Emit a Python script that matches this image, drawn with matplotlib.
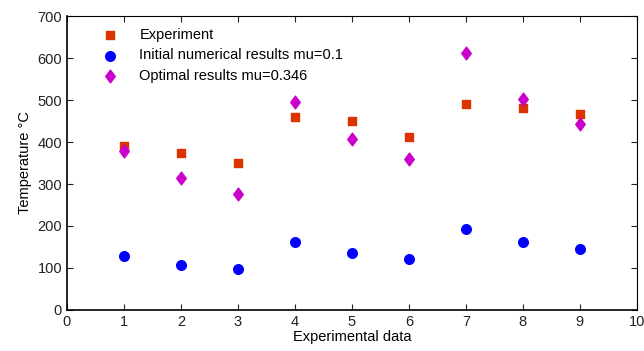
import matplotlib
matplotlib.use("Agg")
import matplotlib.pyplot as plt
from matplotlib.markers import MarkerStyle
from matplotlib.transforms import Affine2D

plt.rcParams['font.family'] = ['Liberation Sans', 'DejaVu Sans']

# data
runs = [1, 2, 3, 4, 5, 6, 7, 8, 9]
experiment = [390, 374, 350, 459, 450, 412, 490, 481, 466]
initial = [128, 108, 98, 161, 136, 121, 194, 163, 145]
optimal = [379, 314, 276, 496, 407, 360, 611, 502, 443]

fig = plt.figure(figsize=(6.44, 3.51), dpi=100)
ax = fig.add_axes([0.104, 0.117, 0.885, 0.837])

diamond = MarkerStyle('D', transform=Affine2D().scale(0.75, 1.0))

ax.scatter(runs, experiment, marker='s', s=30, color='#dd3300', label='Experiment', zorder=3)
ax.scatter(runs, initial, marker='o', s=48, color='#0000ff', label='Initial numerical results mu=0.1', zorder=3)
ax.scatter(runs, optimal, marker=diamond, s=42, color='#cc00cc', label='Optimal results mu=0.346', zorder=3)

ax.set_xlim(0, 10)
ax.set_ylim(0, 700)
ax.set_xticks(range(0, 11))
ax.set_yticks(range(0, 701, 100))
ax.tick_params(direction='in', top=True, right=True, length=4, labelsize=10.5, colors='#222222')
for side in ax.spines.values():
    side.set_linewidth(0.8)
ax.spines['left'].set_linewidth(1.2)
ax.spines['bottom'].set_linewidth(1.2)

ax.set_xlabel('Experimental data', fontsize=10.5, labelpad=1)
ax.set_ylabel('Temperature \u00b0C', fontsize=10.5, labelpad=4)

ax.legend(loc='upper left', frameon=False, fontsize=10.5, handletextpad=1.0,
          labelspacing=0.45, borderaxespad=0.2, bbox_to_anchor=(0.035, 0.99))

fig.savefig('out.png', dpi=100)
